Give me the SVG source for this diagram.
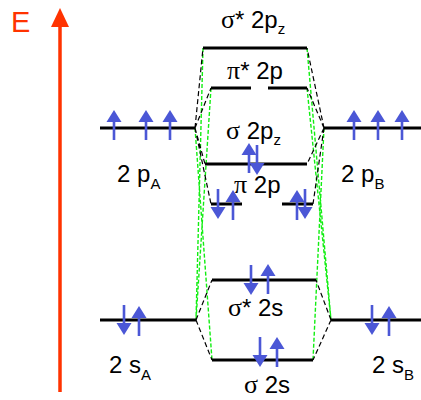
<svg xmlns="http://www.w3.org/2000/svg" xmlns:xlink="http://www.w3.org/1999/xlink" width="421" height="400" viewBox="0 0 421 400">
<style>
.lvl{stroke:#000;stroke-width:3;fill:none}
.bd{stroke:#000;stroke-width:1.2;stroke-dasharray:5 3;fill:none}
.gd{stroke:#11ee11;stroke-width:1.4;stroke-dasharray:4 2;fill:none}
.t{font-family:"Liberation Sans",Arial,sans-serif;font-size:24px;fill:#000}
.g{font-family:"Liberation Serif","Times New Roman",serif;font-size:26px}
.sub{font-size:15px}
.e{fill:#4b57d6}
</style>
<defs>
<g id="up"><polygon class="e" points="0,0 7.5,12 -7.5,12"/><rect class="e" x="-1.3" y="11" width="2.6" height="19"/></g>
<g id="dn"><polygon class="e" points="0,30 7.5,18 -7.5,18"/><rect class="e" x="-1.3" y="0" width="2.6" height="19"/></g>
</defs>
<rect width="421" height="400" fill="#fff"/>
<g id="energy-axis">
<line x1="60" y1="24" x2="60" y2="392" stroke="#ff3300" stroke-width="3.5"/>
<polygon points="60,8 69,27 51,27" fill="#ff3300"/>
<text x="11" y="32" style="font-family:'Liberation Sans',Arial,sans-serif;font-size:29px;fill:#ff3300">E</text>
</g>
<g id="connectors">
<path class="gd" d="M203,48L196,320M211,88L196,320M195,128L212,360M307,48L331,320M307,88L331,320M324,128L313,360"/>
<path class="bd" d="M195,128L203,48M195,128L211,88M195,128L205,164M195,128L211,204M324,128L307,48M324,128L307,88M324,128L307,164M324,128L313,204M196,320L212,280M196,320L212,360M331,320L316,280M331,320L313,360"/>
</g>
<g id="2pA">
<line class="lvl" x1="100" y1="128" x2="195" y2="128"/>
<use xlink:href="#up" x="114" y="110"/><use xlink:href="#up" x="146" y="110"/><use xlink:href="#up" x="170" y="110"/>
<text class="t" x="117" y="182">2 p<tspan class="sub" dy="7">A</tspan></text>
</g>
<g id="2pB">
<line class="lvl" x1="324" y1="128" x2="421" y2="128"/>
<use xlink:href="#up" x="354" y="110"/><use xlink:href="#up" x="378" y="110"/><use xlink:href="#up" x="402" y="110"/>
<text class="t" x="341" y="182">2 p<tspan class="sub" dy="7">B</tspan></text>
</g>
<g id="sigma-star-2pz">
<line class="lvl" x1="203" y1="48" x2="307" y2="48"/>
<text class="t" x="221" y="28"><tspan class="g">σ</tspan>* 2p<tspan class="sub" dy="6">z</tspan></text>
</g>
<g id="pi-star-2p">
<line class="lvl" x1="211" y1="88" x2="251" y2="88"/>
<line class="lvl" x1="268" y1="88" x2="307" y2="88"/>
<text class="t" x="227" y="79"><tspan class="g">π</tspan>* 2p</text>
</g>
<g id="sigma-2pz">
<line class="lvl" x1="205" y1="164" x2="307" y2="164"/>
<use xlink:href="#up" x="249" y="143"/><use xlink:href="#dn" x="257" y="145"/>
<text class="t" x="226" y="139"><tspan class="g">σ</tspan> 2p<tspan class="sub" dy="6">z</tspan></text>
</g>
<g id="pi-2p">
<line class="lvl" x1="211" y1="204" x2="242" y2="204"/>
<line class="lvl" x1="282" y1="204" x2="313" y2="204"/>
<use xlink:href="#dn" x="218" y="189"/><use xlink:href="#up" x="233" y="190"/>
<use xlink:href="#up" x="297" y="190"/><use xlink:href="#dn" x="305" y="189"/>
<text class="t" x="234" y="193"><tspan class="g">π</tspan> 2p</text>
</g>
<g id="sigma-star-2s">
<line class="lvl" x1="212" y1="280" x2="316" y2="280"/>
<use xlink:href="#dn" x="251" y="265"/><use xlink:href="#up" x="268" y="264"/>
<text class="t" x="228" y="316"><tspan class="g">σ</tspan>* 2s</text>
</g>
<g id="sigma-2s">
<line class="lvl" x1="212" y1="360" x2="313" y2="360"/>
<use xlink:href="#dn" x="260" y="337"/><use xlink:href="#up" x="277" y="337"/>
<text class="t" x="244" y="393"><tspan class="g">σ</tspan> 2s</text>
</g>
<g id="2sA">
<line class="lvl" x1="100" y1="320" x2="196" y2="320"/>
<use xlink:href="#dn" x="124" y="305"/><use xlink:href="#up" x="139" y="306"/>
<text class="t" x="109" y="373">2 s<tspan class="sub" dy="7">A</tspan></text>
</g>
<g id="2sB">
<line class="lvl" x1="331" y1="320" x2="421" y2="320"/>
<use xlink:href="#dn" x="372" y="305"/><use xlink:href="#up" x="389" y="306"/>
<text class="t" x="372" y="373">2 s<tspan class="sub" dy="7">B</tspan></text>
</g>
</svg>
